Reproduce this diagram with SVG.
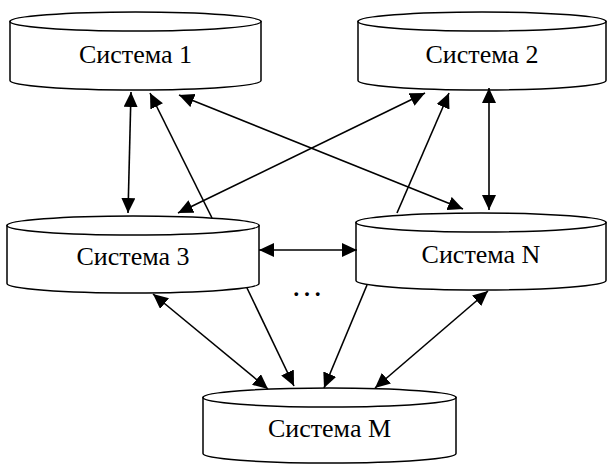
<svg xmlns="http://www.w3.org/2000/svg" width="607" height="464" viewBox="0 0 607 464">
  <style>
    .cyl { fill: #ffffff; stroke: #000000; stroke-width: 1.5; }
    .lbl { font-family: "Liberation Serif", "Times New Roman", serif; font-size: 26px; fill: #000000; text-anchor: middle; }
    .link { fill: none; stroke: #000000; stroke-width: 1.6; }
    .dots { font-family: "Liberation Serif", "Times New Roman", serif; font-size: 32px; fill: #000000; text-anchor: middle; }
  </style>
  <defs>
    <marker id="head" viewBox="0 0 15 14" refX="15" refY="7" markerWidth="15" markerHeight="14" markerUnits="userSpaceOnUse" orient="auto-start-reverse">
      <path d="M0,0 L15,7 L0,14 Z" fill="#000000"/>
    </marker>
  </defs>

  <rect width="607" height="464" fill="#ffffff"/>

  <!-- Система 1: x 10..261, top 12, bottom 90 -->
  <g id="sys1">
    <path class="cyl" d="M10,21.5 L10,80.5 A125.5,9.5 0 0 0 261,80.5 L261,21.5 Z"/>
    <ellipse class="cyl" cx="135.5" cy="21.5" rx="125.5" ry="9.5"/>
    <text class="lbl" x="135.5" y="63">Система 1</text>
  </g>

  <!-- Система 2: x 358..606 -->
  <g id="sys2">
    <path class="cyl" d="M358,21.5 L358,80.5 A124,9.5 0 0 0 606,80.5 L606,21.5 Z"/>
    <ellipse class="cyl" cx="482" cy="21.5" rx="124" ry="9.5"/>
    <text class="lbl" x="482" y="63">Система 2</text>
  </g>

  <!-- Система 3: x 7..259 -->
  <g id="sys3">
    <path class="cyl" d="M7,225.5 L7,283.5 A126,9.5 0 0 0 259,283.5 L259,225.5 Z"/>
    <ellipse class="cyl" cx="133" cy="225.5" rx="126" ry="9.5"/>
    <text class="lbl" x="133" y="265">Система 3</text>
  </g>

  <!-- Система N: x 356..606 -->
  <g id="sysN">
    <path class="cyl" d="M356,222.5 L356,280.5 A125,9.5 0 0 0 606,280.5 L606,222.5 Z"/>
    <ellipse class="cyl" cx="481" cy="222.5" rx="125" ry="9.5"/>
    <text class="lbl" x="481" y="263">Система N</text>
  </g>

  <!-- Система M: x 203..456 -->
  <g id="sysM">
    <path class="cyl" d="M203,397.5 L203,453.5 A126.5,9.5 0 0 0 456,453.5 L456,397.5 Z"/>
    <ellipse class="cyl" cx="329.5" cy="397.5" rx="126.5" ry="9.5"/>
    <text class="lbl" x="329.5" y="437">Система M</text>
  </g>

  <text id="ellipsis" class="dots" x="307" y="296">…</text>

  <g id="connectors">
    <line class="link" x1="131" y1="92" x2="128" y2="213" marker-start="url(#head)" marker-end="url(#head)"/>
    <line class="link" x1="212" y1="218" x2="150" y2="93" marker-end="url(#head)"/>
    <line class="link" x1="179" y1="95" x2="463" y2="209" marker-start="url(#head)" marker-end="url(#head)"/>
    <line class="link" x1="178" y1="213" x2="425" y2="93" marker-start="url(#head)" marker-end="url(#head)"/>
    <line class="link" x1="397" y1="213" x2="449" y2="93" marker-end="url(#head)"/>
    <line class="link" x1="489" y1="88" x2="489" y2="210" marker-start="url(#head)" marker-end="url(#head)"/>
    <line class="link" x1="259" y1="250" x2="357" y2="250" marker-start="url(#head)" marker-end="url(#head)"/>
    <line class="link" x1="153" y1="294" x2="268" y2="389" marker-start="url(#head)" marker-end="url(#head)"/>
    <line class="link" x1="247" y1="288" x2="294" y2="386" marker-end="url(#head)"/>
    <line class="link" x1="367" y1="285" x2="324" y2="388" marker-end="url(#head)"/>
    <line class="link" x1="488" y1="291" x2="375" y2="388" marker-start="url(#head)" marker-end="url(#head)"/>
  </g>
</svg>
